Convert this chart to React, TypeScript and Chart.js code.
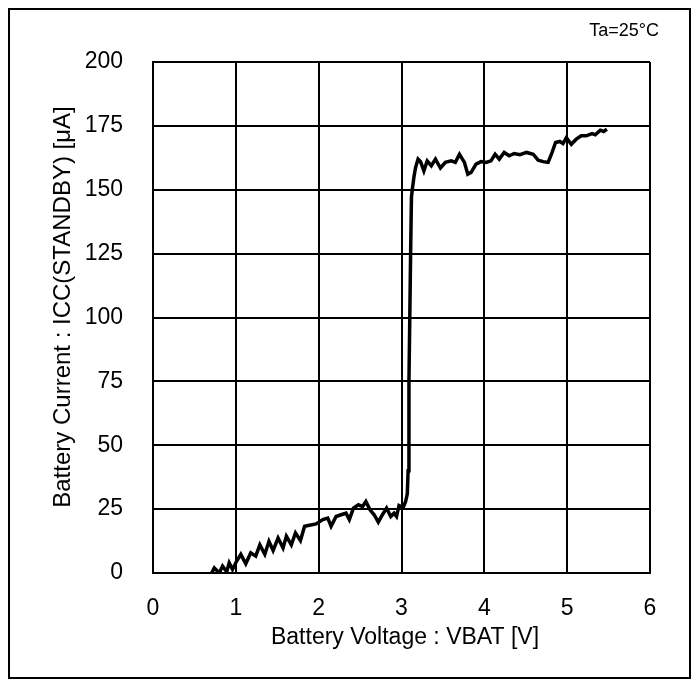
import React, { useEffect, useRef } from "react";
import { Chart, registerables } from "chart.js";

Chart.register(...registerables);

const voltage = [
  0.59, 0.64, 0.7, 0.74, 0.8, 0.84, 0.89, 0.92, 0.96, 1.01, 1.06, 1.12, 1.18, 1.24, 1.29, 1.35, 1.4, 1.45, 1.51,
  1.57, 1.61, 1.67, 1.72, 1.78, 1.83, 1.89, 1.97, 2.05, 2.11, 2.15, 2.21, 2.27, 2.33, 2.37, 2.42, 2.48, 2.53,
  2.57, 2.62, 2.67, 2.72, 2.77, 2.82, 2.87, 2.91, 2.94, 2.97, 3.02, 3.05, 3.07, 3.08, 3.09, 3.1, 3.11, 3.12,
  3.13, 3.15, 3.17, 3.2, 3.23, 3.27, 3.31, 3.36, 3.41, 3.47, 3.53, 3.6, 3.65, 3.7, 3.76, 3.8, 3.84, 3.9, 3.96,
  4.02, 4.08, 4.13, 4.18, 4.24, 4.3, 4.36, 4.43, 4.51, 4.59, 4.65, 4.71, 4.77, 4.81, 4.86, 4.91, 4.95, 4.99,
  5.05, 5.11, 5.17, 5.23, 5.3, 5.34, 5.4, 5.44, 5.48,
];
const current = [
  -1, -1, -0.5, 2, 0, 2.7, 0.5, 4, 1.4, 4.7, 7.3, 3.6, 7.9, 6.6, 11, 7.3, 12.4, 8.8, 13.7, 9.8, 14.4, 11, 15.7,
  12.7, 18.3, 18.7, 19.2, 20.9, 21.5, 18.3, 22.1, 22.8, 23.4, 20.9, 25.4, 26.7, 26, 28, 24.7, 22.8, 19.9, 22.8,
  25.4, 22.1, 23.4, 22.1, 26.4, 25.6, 28, 31, 40, 75, 100, 125, 147, 150, 155, 158.7, 162, 161, 157.4, 161.3,
  159.4, 162, 158.5, 160.7, 161.3, 160.7, 163.9, 160.7, 156.1, 156.8, 160, 161, 160.7, 161.3, 163.9, 162, 164.6,
  163.3, 164.2, 163.7, 164.6, 163.9, 161.6, 161, 160.7, 163.9, 168.5, 168.9, 168.1, 170.4, 167.8, 169.8, 171.1,
  171.1, 172, 171.5, 173.3, 172.8, 173.7,
];
const xTicks = [0, 1, 2, 3, 4, 5, 6];
const yTicks = [0, 25, 50, 75, 100, 125, 150, 175, 200];
const xTitle = "Battery Voltage : VBAT [V]";
const yTitle = "Battery Current : ICC(STANDBY) [μA]";
const note = "Ta=25°C";

const FONT = "'Liberation Sans', Arial, sans-serif";

export default function App() {
  const ref = useRef<HTMLCanvasElement | null>(null);
  useEffect(() => {
    if (!ref.current) return;
    const frame = {
      id: "frame",
      afterDraw(chart: any) {
        const { ctx, width, height } = chart;
        ctx.save();
        ctx.strokeStyle = "#000";
        ctx.lineWidth = 2;
        ctx.strokeRect(1, 1, width - 2, height - 2);
        ctx.fillStyle = "#000";
        ctx.textBaseline = "middle";
        ctx.font = `18px ${FONT}`;
        ctx.textAlign = "right";
        ctx.fillText(note, 651, 23);
        ctx.textAlign = "center";
        ctx.font = `23px ${FONT}`;
        ctx.fillText(xTitle, 397, 630);
        ctx.translate(55, 299);
        ctx.rotate(-Math.PI / 2);
        ctx.font = `24px ${FONT}`;
        ctx.fillText(yTitle, 0, 0);
        ctx.restore();
      },
    };
    const chart = new Chart(ref.current, {
      type: "scatter",
      data: {
        datasets: [
          {
            data: voltage.map((v, i) => ({ x: v, y: current[i] })),
            showLine: true,
            borderColor: "#000",
            borderWidth: 3.5,
            pointRadius: 0,
            tension: 0,
          },
        ],
      },
      options: {
        animation: false,
        responsive: false,
        maintainAspectRatio: false,
        layout: { padding: { left: 41, right: 41, top: 54, bottom: 27 } },
        plugins: { legend: { display: false }, tooltip: { enabled: false } },
        scales: {
          x: {
            type: "linear",
            min: 0,
            max: 6,
            afterBuildTicks: (s: any) => {
              s.ticks = xTicks.map((v) => ({ value: v }));
            },
            afterFit: (s: any) => {
              s.height = 79;
            },
            ticks: { color: "#000", font: { family: FONT, size: 23 }, padding: 22, maxRotation: 0 },
            grid: { color: "#000", lineWidth: 2, drawTicks: false },
            border: { color: "#000", width: 2 },
            title: { display: false },
          },
          y: {
            type: "linear",
            min: 0,
            max: 200,
            afterBuildTicks: (s: any) => {
              s.ticks = yTicks.map((v) => ({ value: v }));
            },
            afterFit: (s: any) => {
              s.width = 104;
            },
            ticks: { color: "#000", font: { family: FONT, size: 23 }, padding: 30 },
            grid: { color: "#000", lineWidth: 2, drawTicks: false },
            border: { color: "#000", width: 2 },
            title: { display: false },
          },
        },
      },
      plugins: [frame],
    });
    return () => chart.destroy();
  }, []);
  return <canvas ref={ref} width={683} height={671} style={{ display: "block" }} />;
}
